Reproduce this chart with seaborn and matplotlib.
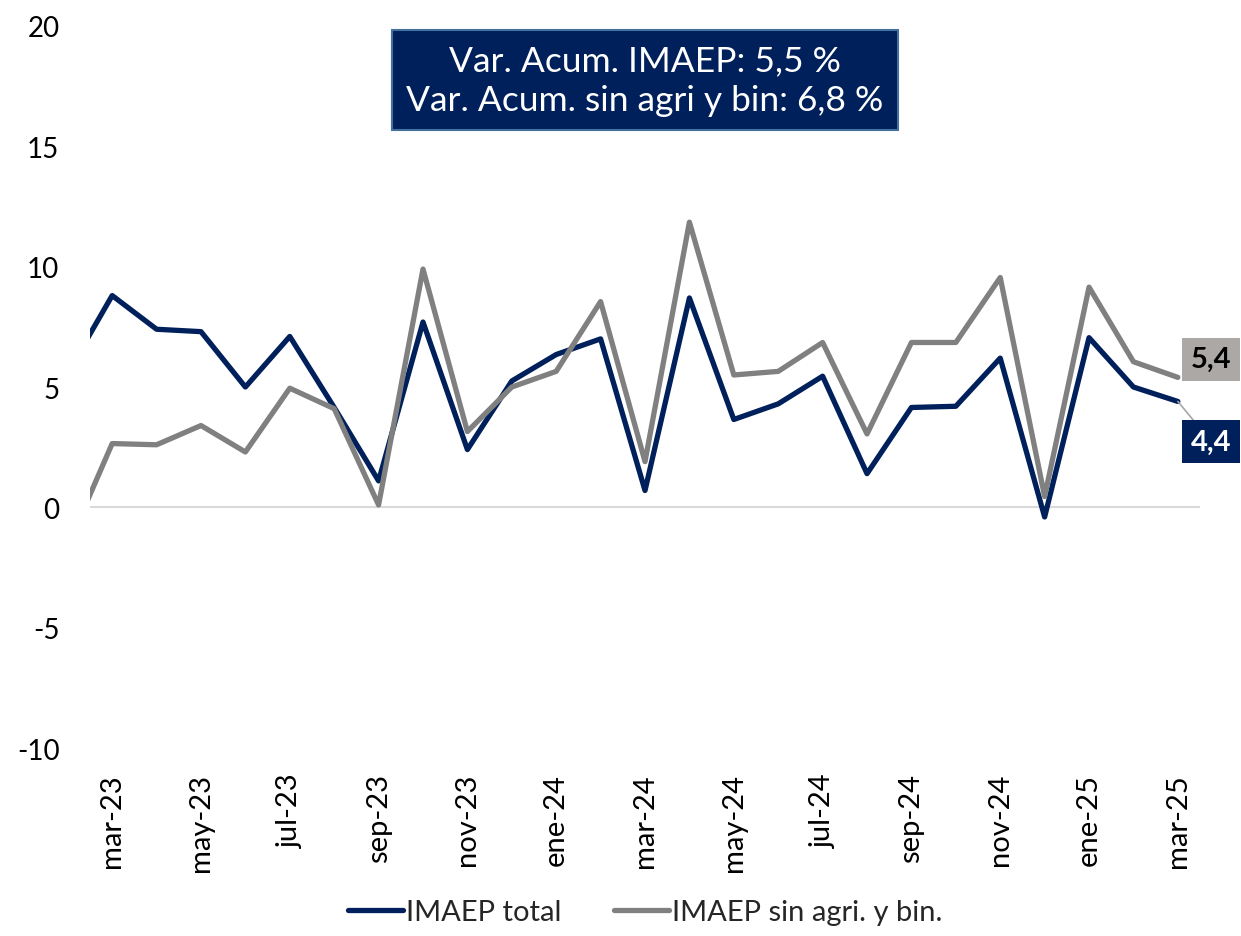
import pandas as pd
import matplotlib.pyplot as plt
import seaborn as sns

# monthly series, feb-23 to mar-25 (feb-23 only partly visible at the left edge)
months = ['feb-23', 'mar-23', 'abr-23', 'may-23', 'jun-23', 'jul-23', 'ago-23', 'sep-23',
          'oct-23', 'nov-23', 'dic-23', 'ene-24', 'feb-24', 'mar-24', 'abr-24', 'may-24',
          'jun-24', 'jul-24', 'ago-24', 'sep-24', 'oct-24', 'nov-24', 'dic-24', 'ene-25',
          'feb-25', 'mar-25']
imaep_total = [5.6, 8.8, 7.4, 7.3, 5.0, 7.1, 4.15, 1.1, 7.7, 2.4, 5.25, 6.35, 7.0, 0.7,
               8.7, 3.65, 4.3, 5.45, 1.4, 4.15, 4.2, 6.2, -0.4, 7.05, 5.0, 4.4]
imaep_sin_agri = [-1.6, 2.65, 2.6, 3.4, 2.3, 4.95, 4.1, 0.1, 9.9, 3.15, 5.0, 5.65, 8.55, 1.9,
                  11.85, 5.5, 5.65, 6.85, 3.05, 6.85, 6.85, 9.55, 0.45, 9.15, 6.05, 5.4]
series_names = ['IMAEP total', 'IMAEP sin agri. y bin.']
box_text = 'Var. Acum. IMAEP: 5,5 %\nVar. Acum. sin agri y bin: 6,8 %'

navy = '#00205B'
grey = '#808080'

df = pd.DataFrame({
    'idx': list(range(len(months))) * 2,
    'valor': imaep_total + imaep_sin_agri,
    'serie': [series_names[0]] * len(months) + [series_names[1]] * len(months),
})

sns.set_style('white')
plt.rcParams['font.family'] = ['Lato', 'DejaVu Sans']
plt.rcParams['axes.unicode_minus'] = False

fig = plt.figure(figsize=(12.41, 9.37), dpi=100)
ax = fig.add_axes([0.0725, 0.2006, 0.8945, 0.7706])

ax.axhline(0, color='#D9D9D9', lw=1.5, zorder=1)
sns.lineplot(data=df, x='idx', y='valor', hue='serie', palette=[navy, grey],
             linewidth=3.8, ax=ax, zorder=3)

ax.set_xlim(0.5, len(months) - 0.5)
ax.set_ylim(-10, 20)
ax.set_yticks(range(-10, 21, 5))
ax.set_xticks(range(1, len(months), 2))
ax.set_xticklabels(months[1::2], rotation=90)
ax.tick_params(axis='x', labelsize=21, length=0, colors='black', pad=18)
ax.tick_params(axis='y', labelsize=20, length=0, colors='black', pad=22)
ax.set_xlabel('')
ax.set_ylabel('')
sns.despine(ax=ax, left=True, bottom=True)

# summary box
ax.text(0.5, 0.925, box_text, transform=ax.transAxes, ha='center', va='center',
        fontsize=25.5, color='white', linespacing=1.3,
        bbox=dict(boxstyle='square,pad=0.4', facecolor=navy, edgecolor='#41719C', lw=1.5))

# end value labels
last = len(months) - 1
ax.annotate(f'{imaep_sin_agri[-1]:.1f}'.replace('.', ','), xy=(last, imaep_sin_agri[-1]),
            xytext=(24, 13), textcoords='offset points', ha='center', va='center',
            fontsize=21, fontweight='bold', color='black', annotation_clip=False,
            bbox=dict(boxstyle='square,pad=0.3', facecolor='#ABA8A6', edgecolor='none'))
ax.annotate(f'{imaep_total[-1]:.1f}'.replace('.', ','), xy=(last, imaep_total[-1]),
            xytext=(24, -29), textcoords='offset points', ha='center', va='center',
            fontsize=21, fontweight='bold', color='white', annotation_clip=False,
            bbox=dict(boxstyle='square,pad=0.3', facecolor=navy, edgecolor='none'),
            arrowprops=dict(arrowstyle='-', color='#A6A6A6', lw=1.2, shrinkA=0, shrinkB=0))

sns.move_legend(ax, 'lower center', bbox_to_anchor=(0.5, -0.282), ncol=2, frameon=False,
                title=None, fontsize=21, handlelength=1.9, columnspacing=1.8, handletextpad=0.1)

fig.savefig('out.png', dpi=100)
